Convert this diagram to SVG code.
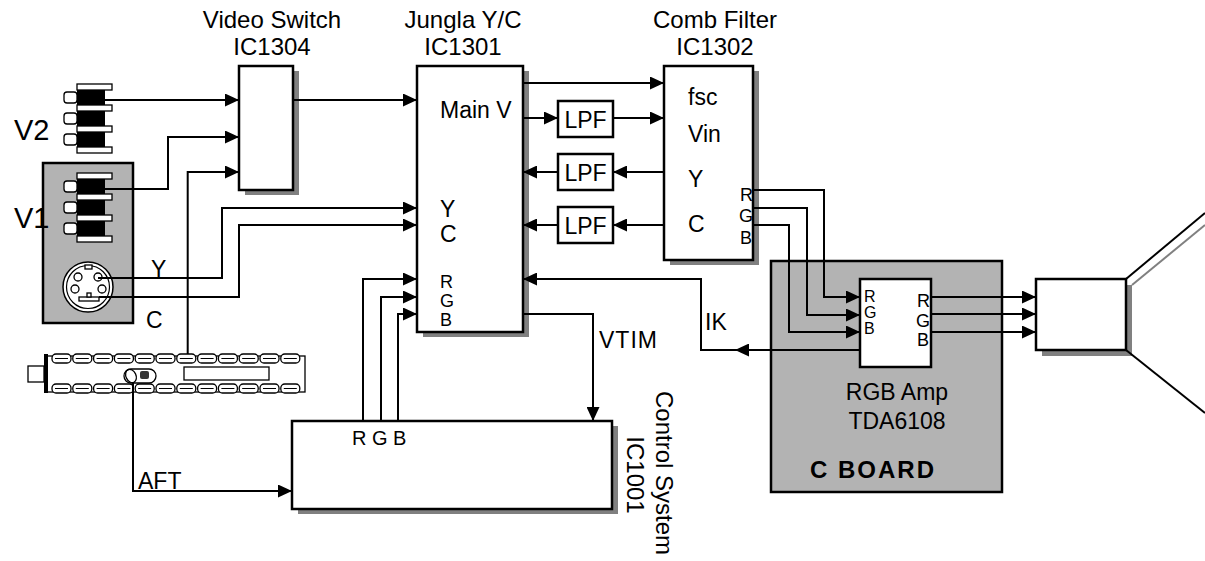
<svg xmlns="http://www.w3.org/2000/svg" width="1205" height="561" viewBox="0 0 1205 561">
  <defs>
    <style>
      .box { fill:#fff; stroke:#000; stroke-width:2.5; }
      .thin { fill:#fff; stroke:#000; stroke-width:1.3; }
      .shadow { fill:#808080; }
      .board { fill:#b3b3b3; stroke:#000; stroke-width:2.5; }
      .wire { fill:none; stroke:#000; stroke-width:2; }
      .arr { marker-end:url(#arrow); }
      .t { font-family:"Liberation Sans", sans-serif; font-size:23px; fill:#000; }
      .h { font-size:24px; }
      .s { font-size:18px; }
      .xs { font-size:16px; }
      .m { text-anchor:middle; }
      .b { font-weight:bold; }
    </style>
    <marker id="arrow" viewBox="0 0 14 13" refX="14" refY="6.5" markerWidth="14" markerHeight="13" markerUnits="userSpaceOnUse" orient="auto">
      <path d="M0,0 L14,6.5 L0,13 Z" fill="#000"/>
    </marker>
    <!-- one RCA jack: flange plate, black body and left tab -->
    <g id="jack">
      <rect x="77" y="0" width="35" height="6" class="thin"/>
      <rect x="77" y="6" width="28" height="15" fill="#000"/>
      <rect x="64" y="8" width="13" height="11" rx="3" class="thin"/>
    </g>
    <g id="lozenge">
      <rect x="0" y="0" width="19" height="9" rx="4" fill="#fff" stroke="#000" stroke-width="1.3"/>
      <line x1="3" y1="4.5" x2="16" y2="4.5" stroke="#000" stroke-width="1"/>
    </g>
  </defs>

  <!-- V1 input panel -->
  <g id="v1-panel">
    <rect x="43" y="163" width="90" height="160" class="board"/>
    <use href="#jack" y="173"/>
    <use href="#jack" y="194"/>
    <use href="#jack" y="215"/>
    <rect x="77" y="236" width="35" height="6" class="thin"/>
    <!-- S-video socket -->
    <circle cx="88" cy="287" r="25" fill="#fff" stroke="#000" stroke-width="1.5"/>
    <circle cx="88" cy="287" r="21.5" fill="none" stroke="#000" stroke-width="1.2"/>
    <rect x="85" y="265" width="7" height="4" class="thin"/>
    <circle cx="78" cy="277" r="4" class="thin"/>
    <circle cx="98" cy="277" r="4" class="thin"/>
    <circle cx="75" cy="289" r="4" class="thin"/>
    <circle cx="102" cy="289" r="4" class="thin"/>
    <rect x="79" y="297" width="20" height="4" class="thin"/>
    <rect x="87" y="293" width="4" height="4" class="thin"/>
    <text x="14" y="228" class="t" style="font-size:29px">V1</text>
    <text x="151" y="277" class="t">Y</text>
    <text x="146" y="328" class="t">C</text>
  </g>

  <!-- V2 input jacks -->
  <g id="v2-jacks">
    <use href="#jack" y="84"/>
    <use href="#jack" y="105"/>
    <use href="#jack" y="126"/>
    <rect x="77" y="147" width="35" height="6" class="thin"/>
    <text x="14" y="140" class="t" style="font-size:29px">V2</text>
  </g>

  <!-- tuner -->
  <g id="tuner">
    <rect x="28" y="366" width="16" height="16" class="thin"/>
    <rect x="46" y="356" width="259" height="36" class="thin"/>
    <rect x="44" y="354" width="4" height="39" fill="#000"/>
    <use href="#lozenge" x="52" y="354"/>
    <use href="#lozenge" x="72.8" y="354"/>
    <use href="#lozenge" x="93.6" y="354"/>
    <use href="#lozenge" x="114.4" y="354"/>
    <use href="#lozenge" x="135.2" y="354"/>
    <use href="#lozenge" x="156" y="354"/>
    <use href="#lozenge" x="176.8" y="354"/>
    <use href="#lozenge" x="197.6" y="354"/>
    <use href="#lozenge" x="218.4" y="354"/>
    <use href="#lozenge" x="239.2" y="354"/>
    <use href="#lozenge" x="260" y="354"/>
    <use href="#lozenge" x="280.8" y="354"/>
    <use href="#lozenge" x="52" y="384"/>
    <use href="#lozenge" x="72.8" y="384"/>
    <use href="#lozenge" x="93.6" y="384"/>
    <use href="#lozenge" x="114.4" y="384"/>
    <use href="#lozenge" x="135.2" y="384"/>
    <use href="#lozenge" x="156" y="384"/>
    <use href="#lozenge" x="176.8" y="384"/>
    <use href="#lozenge" x="197.6" y="384"/>
    <use href="#lozenge" x="218.4" y="384"/>
    <use href="#lozenge" x="239.2" y="384"/>
    <use href="#lozenge" x="260" y="384"/>
    <use href="#lozenge" x="280.8" y="384"/>
    <rect x="184" y="367" width="85" height="13" class="thin"/>
    <rect x="124" y="369" width="32" height="14" rx="7" class="thin"/>
    <ellipse cx="131" cy="376" rx="5" ry="7" transform="rotate(-25 131 376)" fill="none" stroke="#000" stroke-width="1.3"/>
    <rect x="140" y="371" width="9" height="8" rx="2" fill="#333"/>
  </g>

  <!-- Video Switch IC1304 -->
  <g id="video-switch">
    <rect x="245" y="71" width="54" height="124" class="shadow"/>
    <rect x="239" y="66" width="54" height="124" class="box"/>
    <text x="272" y="28" class="t h m">Video Switch</text>
    <text x="272" y="55" class="t h m">IC1304</text>
  </g>

  <!-- Jungla Y/C IC1301 -->
  <g id="jungla">
    <rect x="423" y="71" width="106" height="266" class="shadow"/>
    <rect x="417" y="66" width="106" height="266" class="box"/>
    <text x="463" y="28" class="t h m">Jungla Y/C</text>
    <text x="463" y="55" class="t h m">IC1301</text>
    <text x="440" y="118" class="t">Main V</text>
    <text x="440" y="217" class="t">Y</text>
    <text x="440" y="242" class="t">C</text>
    <text x="440" y="288" class="t s">R</text>
    <text x="440" y="307" class="t s">G</text>
    <text x="440" y="326" class="t s">B</text>
  </g>

  <!-- low-pass filters -->
  <g id="lpf1">
    <rect x="558" y="101" width="55" height="36" class="box"/>
    <text x="585.5" y="128" class="t m">LPF</text>
  </g>
  <g id="lpf2">
    <rect x="558" y="154" width="55" height="36" class="box"/>
    <text x="585.5" y="181" class="t m">LPF</text>
  </g>
  <g id="lpf3">
    <rect x="558" y="207" width="55" height="36" class="box"/>
    <text x="585.5" y="234" class="t m">LPF</text>
  </g>

  <!-- Comb Filter IC1302 -->
  <g id="comb-filter">
    <rect x="670" y="71" width="89" height="194" class="shadow"/>
    <rect x="664" y="66" width="89" height="194" class="box"/>
    <text x="715" y="28" class="t h m">Comb Filter</text>
    <text x="715" y="55" class="t h m">IC1302</text>
    <text x="688" y="105" class="t">fsc</text>
    <text x="688" y="142" class="t">Vin</text>
    <text x="688" y="187" class="t">Y</text>
    <text x="688" y="232" class="t">C</text>
    <text x="740" y="201" class="t s">R</text>
    <text x="739" y="222" class="t s">G</text>
    <text x="740" y="244" class="t s">B</text>
  </g>

  <!-- C board with RGB amplifier -->
  <g id="c-board">
    <rect x="771" y="261" width="231" height="231" class="board"/>
    <rect x="860" y="279" width="71" height="88" class="box"/>
    <text x="864" y="302" class="t xs">R</text>
    <text x="864" y="318" class="t xs">G</text>
    <text x="864" y="334" class="t xs">B</text>
    <text x="917" y="307" class="t s">R</text>
    <text x="916" y="327" class="t s">G</text>
    <text x="917" y="346" class="t s">B</text>
    <text x="897" y="400" class="t m">RGB Amp</text>
    <text x="897" y="429" class="t m">TDA6108</text>
    <text x="810" y="478" class="t b" style="font-size:24px;letter-spacing:2px">C BOARD</text>
  </g>

  <!-- picture tube -->
  <g id="crt">
    <rect x="1042" y="285" width="90" height="71" class="shadow"/>
    <rect x="1036" y="279" width="90" height="71" class="box"/>
    <line x1="1132" y1="285" x2="1205" y2="225" stroke="#808080" stroke-width="2"/>
    <line x1="1126" y1="279" x2="1205" y2="213" stroke="#000" stroke-width="2"/>
    <line x1="1126" y1="350" x2="1205" y2="413" stroke="#000" stroke-width="2"/>
  </g>

  <!-- Control System IC1001 -->
  <g id="control-system">
    <rect x="298" y="426" width="320" height="88" class="shadow"/>
    <rect x="292" y="421" width="320" height="88" class="box"/>
    <text x="352" y="445" class="t" style="font-size:20px">R G B</text>
    <text transform="translate(656 473) rotate(90)" class="t h m">Control System</text>
    <text transform="translate(627 475) rotate(90)" class="t h m">IC1001</text>
  </g>

  <!-- signal paths -->
  <g id="connectors" class="wire">
    <path class="arr" d="M105,100 H239"/>
    <path class="arr" d="M105,189 H168 V137 H239"/>
    <path class="arr" d="M187.7,354 V172 H239"/>
    <path class="arr" d="M293,100 H417"/>
    <path class="arr" d="M523,83 H664"/>
    <path class="arr" d="M523,118 H558"/>
    <path class="arr" d="M613,118 H664"/>
    <path class="arr" d="M664,172 H613"/>
    <path class="arr" d="M558,172 H523"/>
    <path class="arr" d="M664,225 H613"/>
    <path class="arr" d="M558,225 H523"/>
    <path class="arr" d="M98,278 H222 V208 H417"/>
    <path class="arr" d="M99,297 H239 V225 H417"/>
    <path class="arr" d="M363,421 V279 H417"/>
    <path class="arr" d="M381,421 V297 H417"/>
    <path class="arr" d="M398,421 V314 H417"/>
    <path class="arr" d="M523,314 H593 V421"/>
    <path class="arr" d="M753,190 H824 V297 H860"/>
    <path class="arr" d="M753,208 H807 V315 H860"/>
    <path class="arr" d="M753,225 H789 V332 H860"/>
    <path class="arr" d="M931,297 H1036"/>
    <path class="arr" d="M931,314 H1036"/>
    <path class="arr" d="M931,332 H1036"/>
    <path class="arr" d="M860,350 H735"/>
    <path class="arr" d="M736,350 H701 V279 H523"/>
    <path class="arr" d="M133,383 V491 H292"/>
  </g>

  <!-- signal names -->
  <g id="signal-labels" class="t">
    <text x="599" y="348" style="letter-spacing:1px">VTIM</text>
    <text x="705" y="330">IK</text>
    <text x="138" y="489">AFT</text>
  </g>
</svg>
